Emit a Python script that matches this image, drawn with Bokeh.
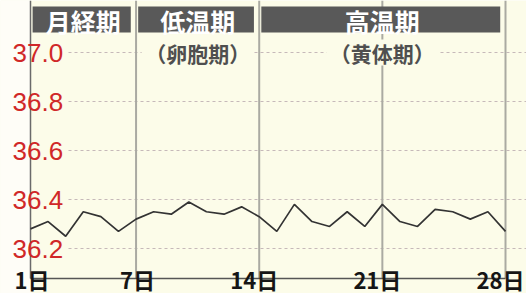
from bokeh.plotting import figure
from bokeh.models import Range1d, BoxAnnotation
from bokeh.core.properties import value
from bokeh.embed import file_html
from bokeh.resources import INLINE

# ---- data ----
days = list(range(1, 29))
temps = [36.28, 36.31, 36.25, 36.35, 36.33, 36.27, 36.32, 36.35, 36.34, 36.39,
         36.35, 36.34, 36.37, 36.33, 36.27, 36.38, 36.31, 36.29, 36.35, 36.29,
         36.38, 36.31, 36.29, 36.36, 36.35, 36.32, 36.35, 36.27]
x_ticks = [1, 7, 14, 21, 28]
x_tick_labels = ["1日", "7日", "14日", "21日", "28日"]
y_ticks = [36.2, 36.4, 36.6, 36.8, 37.0]
y_tick_labels = ["36.2", "36.4", "36.6", "36.8", "37.0"]
phases = ["月経期", "低温期", "高温期"]
phase_start = [1, 7, 14]
phase_end = [7, 14, 28]
phase_sub = ["", "（卵胞期）", "（黄体期）"]

# ---- layout ----
W, H = 526, 293
PX_DAY = 475 / 27.0
PX_DEG = 245.0
xs = 1 - 30 / PX_DAY
xe = xs + W / PX_DAY
ye = 37.0 + 52 / PX_DEG
ys = ye - H / PX_DEG


def px_x(page_x):
    return xs + page_x / PX_DAY


def px_y(page_y):
    return ye - page_y / PX_DEG


CREAM = "#fcfce9"
p = figure(width=W, height=H, x_range=Range1d(xs, xe), y_range=Range1d(ys, ye),
           output_backend="svg", toolbar_location=None, min_border=0,
           x_axis_location=None, y_axis_location=None)
p.grid.visible = False
p.outline_line_color = None
p.background_fill_color = CREAM
p.border_fill_color = "white"
p.add_layout(BoxAnnotation(right=x_ticks[0], fill_color="#fefdf7", fill_alpha=1,
                           line_color=None, level="underlay"))

axis_y = px_y(278)

# horizontal grid lines
n = len(y_ticks)
p.segment(x0=[px_x(68)] * n, y0=y_ticks, x1=[xe] * n, y1=y_ticks,
          line_color="#c6b9b9", line_width=1, line_dash="3 3")

# vertical lines
m = len(x_ticks) - 1
p.segment(x0=x_ticks[1:], y0=[axis_y] * m, x1=x_ticks[1:], y1=[ye] * m,
          line_color="#aaaaa2", line_width=2)
p.segment(x0=[x_ticks[0]], y0=[axis_y], x1=[x_ticks[0]], y1=[ye],
          line_color="#6a6a6a", line_width=1.5)
p.segment(x0=[x_ticks[0]], y0=[axis_y], x1=[x_ticks[-1]], y1=[axis_y],
          line_color="#555555", line_width=1.5)

# header bars
p.quad(left=[s + 0.12 for s in phase_start], right=[e - 0.3 for e in phase_end],
       bottom=[px_y(32)] * 3, top=[px_y(6)] * 3, fill_color="#595959", line_color=None)
centers = [(s + e) / 2 for s, e in zip(phase_start, phase_end)]
p.text(x=centers, y=[px_y(20)] * 3, text=phases, text_color="white",
       text_font=value("Noto Sans CJK JP"), text_font_style="bold",
       text_font_size="25px", text_align="center", text_baseline="middle")

# subtitles with a cream backing
p.rect(x=centers[1:], y=[px_y(52)] * 2, width=112, height=26,
       width_units="screen", height_units="screen", fill_color=CREAM, line_color=None)
p.text(x=centers[1:], y=[px_y(52)] * 2, text=phase_sub[1:], text_color="#4f4f4f",
       text_font=value("Noto Sans CJK JP"), text_font_style="bold",
       text_font_size="21px", text_align="center", text_baseline="middle")

# temperature line
p.line(days, temps, line_color="#333333", line_width=1.7)

# tick labels
p.text(x=[px_x(12)] * n, y=y_ticks, text=y_tick_labels, text_color="#d02828",
       text_font=value("Liberation Sans"), text_font_size="26px",
       text_align="left", text_baseline="middle")
p.text(x=x_ticks, y=[px_y(278)] * len(x_ticks), text=x_tick_labels, text_color="#151515",
       text_font=value("Noto Sans CJK JP"), text_font_style="bold",
       text_font_size="22px", text_align="right", text_baseline="middle", x_offset=19)

open("out.html", "w").write(file_html(p, INLINE))
